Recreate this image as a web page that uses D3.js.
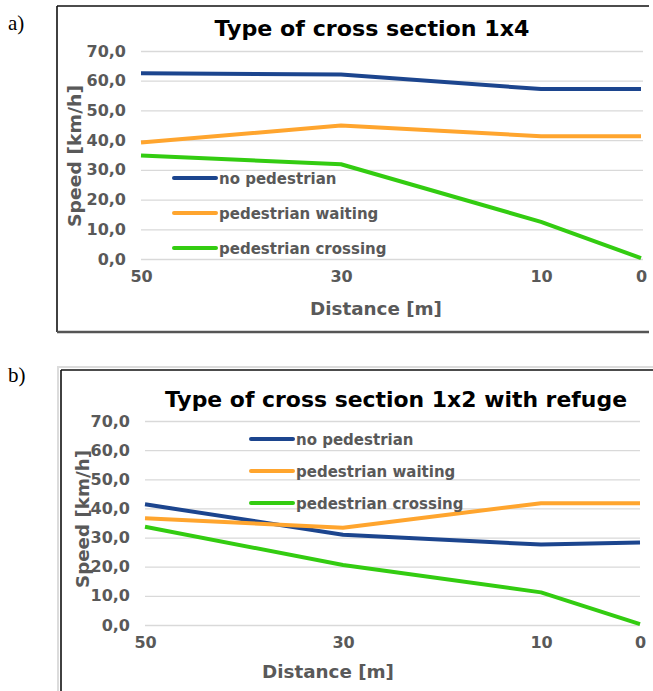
<!DOCTYPE html>
<html>
<head>
<meta charset="utf-8">
<script src="https://cdn.jsdelivr.net/npm/d3@7"></script>
<style>
  body { margin: 0; background: #fff; }
  text { font-family: "DejaVu Sans", Verdana, sans-serif; }
</style>
</head>
<body>
<svg id="chart" width="653" height="691"></svg>
<script>
// distances along the approach [m]
var distances = [50, 30, 10, 0];
var yTicks = [0, 10, 20, 30, 40, 50, 60, 70];
var seriesNames = ["no pedestrian", "pedestrian waiting", "pedestrian crossing"];
var seriesColors = ["#1c458e", "#ffa52e", "#33cc11"];

// panel a) cross section 1x4
var a_noPed = [62.5, 62.1, 57.2, 57.2];
var a_waiting = [39.2, 44.9, 41.3, 41.3];
var a_crossing = [34.8, 31.9, 12.5, 0.3];

// panel b) cross section 1x2 with refuge
var b_noPed = [41.4, 31.0, 27.6, 28.3];
var b_waiting = [36.6, 33.4, 41.8, 41.8];
var b_crossing = [33.7, 20.6, 11.2, 0.3];

var svg = d3.select("#chart");

function drawPanel(p) {
  var g = svg.append("g");

  // frame
  if (p.outer) {
    g.append("rect").attr("x", p.outer[0]).attr("y", p.outer[1])
      .attr("width", 700).attr("height", 400)
      .attr("fill", "none").attr("stroke", "#dcdcdc").attr("stroke-width", 2);
  }
  g.append("line").attr("x1", p.box[0]).attr("x2", p.box[2])
    .attr("y1", p.box[1]).attr("y2", p.box[1])
    .attr("stroke", "#111").attr("stroke-width", 1.6);
  g.append("line").attr("x1", p.box[0]).attr("x2", p.box[0])
    .attr("y1", p.box[1]).attr("y2", p.box[3])
    .attr("stroke", "#111").attr("stroke-width", 1.6);
  if (p.bottom) {
    g.append("line").attr("x1", p.box[0]).attr("x2", p.box[2])
      .attr("y1", p.box[3]).attr("y2", p.box[3])
      .attr("stroke", "#555").attr("stroke-width", 2.5);
  }

  g.append("text").attr("x", 8).attr("y", p.tagY)
    .style("font-family", "'Liberation Serif', 'Times New Roman', serif")
    .style("font-size", "21px").text(p.tag);

  var x = d3.scaleLinear().domain([50, 0]).range(p.xr);
  var y = d3.scaleLinear().domain([0, 70]).range(p.yr);

  // y axis with gridlines
  var yAxis = d3.axisLeft(y).tickValues(yTicks)
    .tickSize(-(p.gridEnd - p.xr[0]))
    .tickPadding(15)
    .tickFormat(function(d) { return d3.format(".1f")(d).replace(".", ","); });
  var ya = g.append("g").attr("transform", "translate(" + p.xr[0] + ",0)").call(yAxis);
  ya.select(".domain").remove();
  ya.selectAll(".tick line").attr("stroke", "#d9d9d9").attr("stroke-width", 1.3);
  ya.selectAll(".tick text").attr("fill", "#595959")
    .style("font-size", "16px").style("font-weight", "bold");

  // x axis
  var xAxis = d3.axisBottom(x).tickValues(distances).tickSize(0).tickPadding(12);
  var xa = g.append("g").attr("transform", "translate(0," + p.yr[0] + ")").call(xAxis);
  xa.select(".domain").remove();
  xa.selectAll(".tick text").attr("fill", "#595959")
    .style("font-size", "16px").style("font-weight", "bold");

  // series
  var line = d3.line()
    .x(function(d, i) { return x(distances[i]); })
    .y(function(d) { return y(d); });
  p.series.forEach(function(s, i) {
    g.append("path").datum(s).attr("d", line)
      .attr("fill", "none").attr("stroke", seriesColors[i])
      .attr("stroke-width", 4).attr("stroke-linejoin", "round");
  });

  // legend
  seriesNames.forEach(function(name, i) {
    var ly = p.legend[1] + i * p.legend[2];
    g.append("line").attr("x1", p.legend[0]).attr("x2", p.legend[0] + 42)
      .attr("y1", ly).attr("y2", ly)
      .attr("stroke", seriesColors[i]).attr("stroke-width", 4)
      .attr("stroke-linecap", "round");
    g.append("text").attr("x", p.legend[0] + 45).attr("y", ly + 6)
      .attr("fill", "#595959").style("font-size", "15px").style("font-weight", "bold")
      .text(name);
  });

  // titles
  g.append("text").attr("x", p.title[0]).attr("y", p.title[1])
    .attr("text-anchor", "middle").attr("fill", "#000")
    .attr("textLength", p.title[2]).attr("lengthAdjust", "spacingAndGlyphs")
    .style("font-size", "22px").style("font-weight", "bold").text(p.titleText);

  g.append("text").attr("x", p.xLabel[0]).attr("y", p.xLabel[1])
    .attr("text-anchor", "middle").attr("fill", "#595959")
    .attr("textLength", 132).attr("lengthAdjust", "spacingAndGlyphs")
    .style("font-size", "18px").style("font-weight", "bold").text("Distance  [m]");

  g.append("text")
    .attr("transform", "translate(" + p.yLabel[0] + "," + p.yLabel[1] + ") rotate(-90)")
    .attr("text-anchor", "middle").attr("fill", "#595959")
    .attr("textLength", p.yLabel[2]).attr("lengthAdjust", "spacingAndGlyphs")
    .style("font-size", "18px").style("font-weight", "bold").text("Speed [km/h]");
}

drawPanel({
  tag: "a)", tagY: 30,
  box: [57, 6, 649, 332], bottom: true,
  xr: [141, 641], yr: [259, 51], gridEnd: 643,
  series: [a_noPed, a_waiting, a_crossing],
  legend: [174, 178, 35],
  title: [372, 36, 315], titleText: "Type of cross section 1x4",
  xLabel: [376, 315], yLabel: [81, 156, 142]
});

drawPanel({
  tag: "b)", tagY: 382,
  outer: [58, 367],
  box: [61, 370, 653, 691], bottom: false,
  xr: [145, 640], yr: [625, 421], gridEnd: 640,
  series: [b_noPed, b_waiting, b_crossing],
  legend: [251, 439, 32],
  title: [396, 407, 462], titleText: "Type of cross section 1x2 with refuge",
  xLabel: [328, 678], yLabel: [89, 519, 138]
});
</script>
</body>
</html>
